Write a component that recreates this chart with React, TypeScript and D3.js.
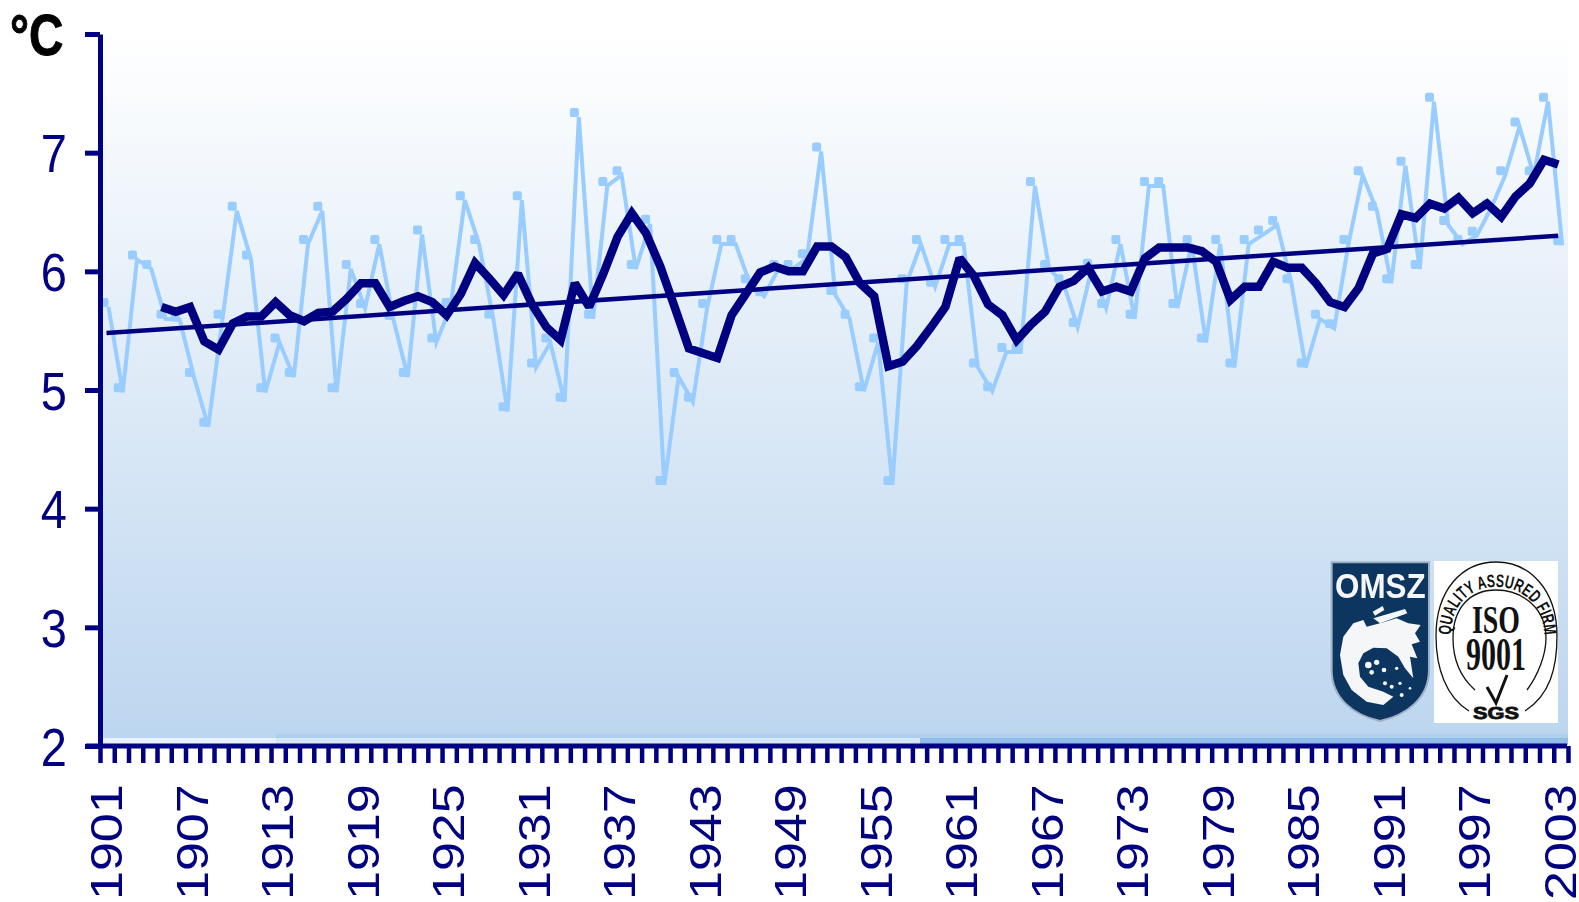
import React, { useEffect, useRef } from "react";
import * as d3 from "d3";

const firstYear = 1901;
const lastYear = 2003;
const labelYears = [1901, 1907, 1913, 1919, 1925, 1931, 1937, 1943, 1949, 1955, 1961, 1967, 1973, 1979, 1985, 1991, 1997, 2003];
const yTicks = [2, 3, 4, 5, 6, 7, 8];

// yearly mean temperature, 1901-2003
const yearly = [
  5.70, 4.98, 6.10, 6.02, 5.60, 5.59, 5.11, 4.69, 5.60, 6.51,
  6.10, 4.98, 5.40, 5.11, 6.23, 6.51, 4.98, 6.02, 5.69, 6.23,
  5.59, 5.11, 6.31, 5.40, 5.70, 6.60, 6.23, 5.60, 4.82, 6.60,
  5.19, 5.40, 4.90, 7.30, 5.60, 6.72, 6.81, 6.02, 6.40, 4.20,
  5.11, 4.90, 5.69, 6.23, 6.23, 5.90, 5.79, 6.02, 6.02, 6.11,
  7.01, 5.80, 5.60, 4.99, 5.40, 4.20, 5.90, 6.23, 5.87, 6.23,
  6.23, 5.19, 4.99, 5.32, 5.32, 6.72, 6.02, 5.90, 5.53, 6.03,
  5.69, 6.23, 5.60, 6.72, 6.72, 5.69, 6.23, 5.40, 6.23, 5.19,
  6.23, 6.31, 6.39, 5.90, 5.19, 5.60, 5.52, 6.23, 6.81, 6.51,
  5.90, 6.89, 6.02, 7.43, 6.39, 6.23, 6.30, 6.53, 6.81, 7.22,
  6.81, 7.43, 6.22,
];

// moving average, 1905-2003
const smoothedStart = 1905;
const smoothed = [
  5.70, 5.66, 5.70, 5.41, 5.34, 5.56, 5.62, 5.62, 5.74, 5.63,
  5.58, 5.65, 5.66, 5.77, 5.90, 5.90, 5.70, 5.75, 5.79, 5.74,
  5.63, 5.81, 6.07, 5.94, 5.80, 5.98, 5.72, 5.53, 5.42, 5.90,
  5.70, 5.98, 6.29, 6.49, 6.32, 6.04, 5.70, 5.35, 5.31, 5.27,
  5.63, 5.81, 5.99, 6.04, 6.00, 6.00, 6.21, 6.21, 6.12, 5.90,
  5.79, 5.20, 5.24, 5.37, 5.53, 5.70, 6.11, 5.96, 5.72, 5.63,
  5.42, 5.55, 5.66, 5.87, 5.92, 6.03, 5.83, 5.87, 5.83, 6.11,
  6.20, 6.20, 6.20, 6.17, 6.08, 5.76, 5.87, 5.87, 6.08, 6.03,
  6.03, 5.90, 5.74, 5.70, 5.86, 6.15, 6.19, 6.48, 6.45, 6.57,
  6.53, 6.62, 6.49, 6.57, 6.46, 6.63, 6.74, 6.94, 6.90,
];

const trendEnds = [5.48, 6.30];

const navy = "#000080";
const lightBlue = "#99CCFF";

function App() {
  const svgRef = useRef(null);

  useEffect(() => {
    const svg = d3.select(svgRef.current);
    svg.selectAll("*").remove();

    const years = d3.range(firstYear, lastYear + 1);
    const x = d3.scaleLinear().domain([firstYear, lastYear + 1]).range([100, 1568]);
    const y = d3.scaleLinear().domain([2, 8]).range([746, 34]);
    const mid = (yr) => x(yr) + 7;

    const defs = svg.append("defs");
    const grad = defs.append("linearGradient").attr("id", "bg").attr("x1", 0).attr("x2", 0).attr("y1", 0).attr("y2", 1);
    grad.append("stop").attr("offset", "0%").attr("stop-color", "#ffffff");
    grad.append("stop").attr("offset", "100%").attr("stop-color", "#bdd6ef");
    defs.append("filter").attr("id", "soft").append("feGaussianBlur").attr("stdDeviation", 1.6);

    // plot background and the odd strips along the bottom
    svg.append("rect").attr("x", 100).attr("y", 34).attr("width", 1468).attr("height", 700).attr("fill", "url(#bg)");
    const strip = (x0, x1, y0, y1, c) =>
      svg.append("rect").attr("x", x0).attr("y", y0).attr("width", x1 - x0).attr("height", y1 - y0).attr("fill", c);
    strip(100, 276, 734, 738, "#bdd6ef");
    strip(276, 1568, 734, 738, "#adceee");
    strip(100, 276, 738, 745, "#e8f1fb");
    strip(276, 920, 738, 745, "#d7e6f6");
    strip(920, 1568, 738, 745, "#8fbde8");

    // yearly series: markers sit a few pixels off the line, as in the original
    const lightLine = d3.line().x((d, i) => mid(years[i]) + 1.5).y((d) => y(d));
    svg.append("path").attr("d", lightLine(yearly)).attr("fill", "none").attr("stroke", lightBlue).attr("stroke-width", 4);
    svg.append("g").selectAll("rect").data(yearly).join("rect")
      .attr("x", (d, i) => mid(years[i]) - 7.5)
      .attr("y", (d) => y(d) - 9)
      .attr("width", 9).attr("height", 9).attr("rx", 2)
      .attr("fill", lightBlue);

    // trend
    const trendX = d3.scaleLinear().domain([firstYear, lastYear]).range([mid(firstYear) - 0.5, mid(lastYear) - 2.5]);
    const trendLine = d3.line().x((d, i) => trendX(i === 0 ? firstYear : lastYear)).y((d) => y(d));
    svg.append("path").attr("d", trendLine(trendEnds)).attr("fill", "none").attr("stroke", navy).attr("stroke-width", 4.5);

    // moving average
    const smoothLine = d3.line().x((d, i) => mid(smoothedStart + i) - 2.5).y((d) => y(d));
    svg.append("path").attr("d", smoothLine(smoothed)).attr("fill", "none").attr("stroke", navy)
      .attr("stroke-width", 8.5).attr("stroke-linejoin", "miter").attr("stroke-miterlimit", 2);

    // y axis
    const yAxis = svg.append("g").attr("transform", "translate(100,0)")
      .call(d3.axisLeft(y).tickValues(yTicks).tickSize(15).tickSizeOuter(0).tickFormat((d) => (d === 8 ? "" : String(d))));
    yAxis.select(".domain").attr("stroke", navy).attr("stroke-width", 5);
    yAxis.selectAll(".tick line").attr("stroke", navy).attr("stroke-width", 5);
    yAxis.selectAll("text")
      .attr("x", 0).attr("dy", null)
      .attr("transform", "translate(-33,19) scale(0.87,1)")
      .attr("fill", navy).attr("font-size", 54).attr("font-family", "'Liberation Sans', Arial, sans-serif");
    yAxis.attr("font-family", null).attr("font-size", null);

    // x axis, ticks between the years
    const xAxis = svg.append("g").attr("transform", "translate(0,746)")
      .call(d3.axisBottom(x).tickValues(d3.range(firstYear, lastYear + 2)).tickSize(17).tickSizeOuter(0).tickFormat(""));
    xAxis.select(".domain").attr("stroke", navy).attr("stroke-width", 5).attr("d", "M86,0H1567");
    xAxis.selectAll(".tick line").attr("stroke", navy).attr("stroke-width", 4.5);

    svg.append("g").selectAll("text").data(labelYears).join("text")
      .attr("transform", (d) => `translate(${mid(d) + 15},900) rotate(-90) scale(1,0.87)`)
      .attr("fill", navy).attr("font-size", 52).attr("font-family", "'Liberation Sans', Arial, sans-serif")
      .text((d) => d);

    svg.append("text").attr("transform", "translate(10,55) scale(0.82,1)")
      .attr("font-size", 58).attr("font-weight", "bold").attr("font-family", "'Liberation Sans', Arial, sans-serif")
      .attr("fill", "#000").attr("stroke", "#000").attr("stroke-width", 1).text("°C");

    drawOmsz(svg);
    drawIso(svg, defs);
  }, []);

  return (
    <div style={{ position: "absolute", left: 0, top: 0 }}>
      <svg ref={svgRef} width={1579} height={902} style={{ display: "block", background: "#fff" }} />
    </div>
  );
}

function drawOmsz(svg) {
  // local coordinates are the 3x zoom of the logo
  const g = svg.append("g").attr("transform", "translate(1330,555) scale(0.3333)");
  g.append("path")
    .attr("d", "M5,22 H297 V345 C297,430 230,480 150,498 C70,480 5,430 5,345 Z")
    .attr("fill", "#0c3660").attr("stroke", "#9fb0c4").attr("stroke-width", 6);
  const art = g.append("g").attr("filter", "url(#soft)").attr("fill", "#f4f6f8");
  art.append("text").attr("x", 151).attr("y", 128).attr("text-anchor", "middle")
    .attr("font-size", 108).attr("font-weight", "bold")
    .attr("textLength", 272).attr("lengthAdjust", "spacingAndGlyphs")
    .attr("font-family", "'Liberation Sans', Arial, sans-serif").text("OMSZ");
  art.append("path").attr("d",
    "M272,210 L255,235 L270,260 L245,268 L262,310 L240,305 L250,370 L225,340 L205,305 L170,280 L130,278 L100,295 L85,325 L90,365 L115,395 L160,410 L190,425 L160,450 L110,440 L65,405 L40,360 L30,300 L40,245 L70,205 L100,195 L110,215 L150,205 L200,190 L235,205 Z");
  art.append("path").attr("d", "M130,190 L225,162 L232,175 L150,205 Z");
  art.append("path").attr("d", "M128,170 L158,153 L163,165 L135,182 Z");
  [[115, 330, 10], [140, 322, 8], [162, 345, 7], [125, 352, 7], [185, 395, 6], [210, 385, 5], [165, 385, 6], [215, 420, 6], [200, 340, 5], [240, 400, 4]]
    .forEach(([cx, cy, r]) => art.append("circle").attr("cx", cx).attr("cy", cy).attr("r", r));
}

function drawIso(svg, defs) {
  const g = svg.append("g");
  g.append("rect").attr("x", 1434).attr("y", 561).attr("width", 124).attr("height", 162).attr("fill", "#fff");
  const cx = 1496;
  const ring = (d, w) => g.append("path").attr("d", d).attr("fill", "none").attr("stroke", "#111").attr("stroke-width", w);
  ring("M1469,711 C1446,697 1436,668 1436,636 C1436,590 1462,562 1496,562 C1530,562 1557,590 1557,636 C1557,668 1550,695 1525,711", 1.3);
  ring("M1475,690 C1458,675 1453,655 1453,638 C1453,608 1470,590 1496,590 C1522,590 1546,608 1546,638 C1546,655 1538,675 1527,690", 1.3);
  defs.append("path").attr("id", "isoArc").attr("d", "M1451,642 C1449,605 1470,587 1496,587 C1522,587 1546,605 1544,642");
  g.append("text").attr("font-size", 18).attr("font-weight", "bold").attr("fill", "#111")
    .attr("font-family", "'Liberation Sans', Arial, sans-serif")
    .append("textPath").attr("href", "#isoArc").attr("startOffset", "50%").attr("text-anchor", "middle")
    .attr("textLength", 150).attr("lengthAdjust", "spacingAndGlyphs")
    .text("QUALITY ASSURED FIRM");
  const serif = "'Liberation Serif', 'Times New Roman', serif";
  g.append("text").attr("x", cx).attr("y", 633).attr("text-anchor", "middle").attr("font-size", 41)
    .attr("font-weight", "bold").attr("font-family", serif).attr("fill", "#111")
    .attr("textLength", 48).attr("lengthAdjust", "spacingAndGlyphs").text("ISO");
  g.append("text").attr("x", cx).attr("y", 670).attr("text-anchor", "middle").attr("font-size", 47)
    .attr("font-weight", "bold").attr("font-family", serif).attr("fill", "#111")
    .attr("textLength", 60).attr("lengthAdjust", "spacingAndGlyphs").text("9001");
  g.append("path").attr("d", "M1487,687 L1496,703 L1507,675").attr("fill", "none").attr("stroke", "#111").attr("stroke-width", 3);
  g.append("text").attr("x", cx).attr("y", 719).attr("text-anchor", "middle").attr("font-size", 17)
    .attr("font-weight", "bold").attr("font-family", "'Liberation Sans', Arial, sans-serif").attr("fill", "#111")
    .attr("stroke", "#111").attr("stroke-width", 0.8)
    .attr("textLength", 46).attr("lengthAdjust", "spacingAndGlyphs").text("SGS");
}

export default App;
